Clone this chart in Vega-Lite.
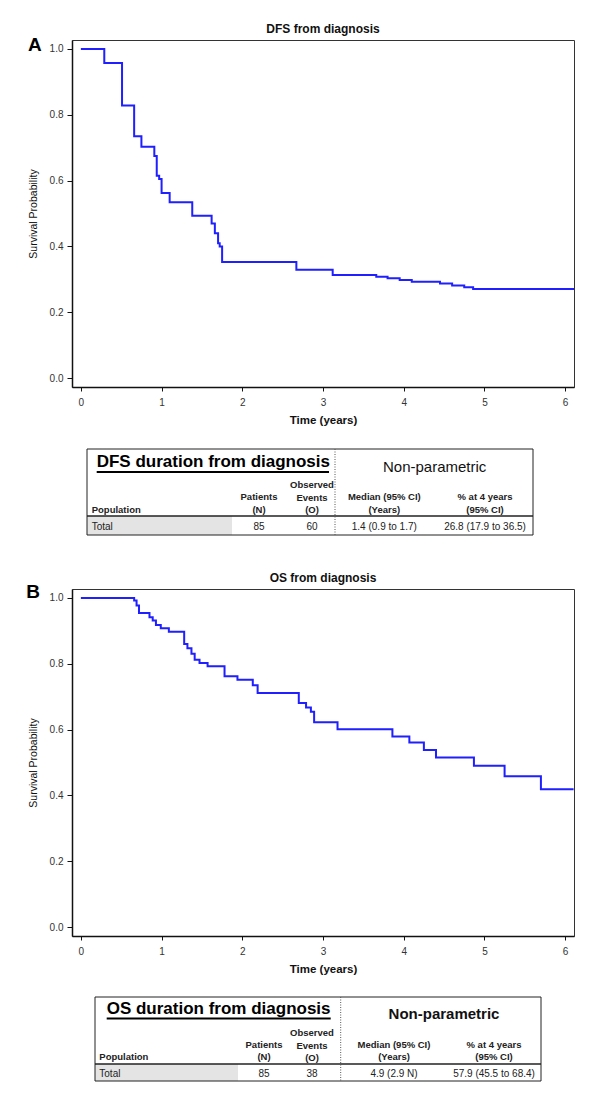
{
  "$schema": "https://vega.github.io/schema/vega-lite/v6.json",
  "autosize": {"type": "pad"},
  "padding": {"left": 25, "top": 22, "right": 10, "bottom": 5},
  "background": "white",
  "spacing": 20,
  "bounds": "flush",
  "config": {
    "font": "Liberation Sans",
    "view": {"stroke": "#333", "strokeWidth": 1},
    "axis": {"grid": false, "domainColor": "#111", "domainWidth": 1.5, "tickColor": "#111", "tickWidth": 1, "labelFont": "Liberation Sans", "labelFontSize": 10, "labelColor": "#333", "titleFont": "Liberation Sans", "titleColor": "#111", "labelFlush": false},
    "title": {"font": "Liberation Sans", "fontSize": 12, "fontWeight": "bold", "color": "#111", "frame": "group"}
  },
  "datasets": {
    "dfs": [
      {"t": 0, "s": 1}, {"t": 0.29, "s": 0.957}, {"t": 0.51, "s": 0.828}, {"t": 0.66, "s": 0.735}, {"t": 0.75, "s": 0.703},
      {"t": 0.91, "s": 0.675}, {"t": 0.94, "s": 0.615}, {"t": 0.97, "s": 0.605}, {"t": 1.0, "s": 0.562}, {"t": 1.1, "s": 0.534},
      {"t": 1.38, "s": 0.493}, {"t": 1.62, "s": 0.47}, {"t": 1.66, "s": 0.44}, {"t": 1.7, "s": 0.41}, {"t": 1.72, "s": 0.4},
      {"t": 1.75, "s": 0.353}, {"t": 2.67, "s": 0.329}, {"t": 3.12, "s": 0.313}, {"t": 3.66, "s": 0.308}, {"t": 3.8, "s": 0.303},
      {"t": 3.95, "s": 0.298}, {"t": 4.1, "s": 0.293}, {"t": 4.45, "s": 0.287}, {"t": 4.6, "s": 0.281}, {"t": 4.75, "s": 0.276},
      {"t": 4.86, "s": 0.271}, {"t": 6.11, "s": 0.271}
    ],
    "os": [
      {"t": 0, "s": 1}, {"t": 0.66, "s": 0.992}, {"t": 0.69, "s": 0.977}, {"t": 0.72, "s": 0.954}, {"t": 0.85, "s": 0.941},
      {"t": 0.89, "s": 0.931}, {"t": 0.93, "s": 0.918}, {"t": 0.99, "s": 0.908}, {"t": 1.09, "s": 0.897}, {"t": 1.28, "s": 0.86},
      {"t": 1.32, "s": 0.847}, {"t": 1.37, "s": 0.83}, {"t": 1.41, "s": 0.812}, {"t": 1.47, "s": 0.802}, {"t": 1.57, "s": 0.792},
      {"t": 1.78, "s": 0.762}, {"t": 1.94, "s": 0.751}, {"t": 2.13, "s": 0.735}, {"t": 2.19, "s": 0.711}, {"t": 2.7, "s": 0.681},
      {"t": 2.79, "s": 0.667}, {"t": 2.85, "s": 0.654}, {"t": 2.89, "s": 0.622}, {"t": 3.18, "s": 0.601}, {"t": 3.86, "s": 0.579},
      {"t": 4.07, "s": 0.561}, {"t": 4.25, "s": 0.538}, {"t": 4.4, "s": 0.515}, {"t": 4.87, "s": 0.49}, {"t": 5.25, "s": 0.458},
      {"t": 5.7, "s": 0.419}, {"t": 6.105, "s": 0.419}
    ],
    "dfsTable": [
      {"kind": "title", "c": 2, "r": 1, "txt": "DFS duration from diagnosis"},
      {"kind": "group", "c": 8.5, "r": 2, "txt": "Non-parametric"},
      {"kind": "head", "c": 1, "r": 5, "txt": "Population"},
      {"kind": "head", "c": 4, "r": 4, "txt": "Patients\n(N)"},
      {"kind": "head", "c": 5, "r": 3, "txt": "Observed\nEvents\n(O)"},
      {"kind": "head", "c": 8, "r": 4, "txt": "Median (95% CI)\n(Years)"},
      {"kind": "head", "c": 9, "r": 4, "txt": "% at 4 years\n(95% CI)"},
      {"kind": "body", "c": 1, "r": 7, "txt": "Total"},
      {"kind": "body", "c": 4, "r": 7, "txt": "85"},
      {"kind": "body", "c": 5, "r": 7, "txt": "60"},
      {"kind": "body", "c": 8, "r": 7, "txt": "1.4 (0.9 to 1.7)"},
      {"kind": "body", "c": 9, "r": 7, "txt": "26.8 (17.9 to 36.5)"}
    ],
    "osTable": [
      {"kind": "title", "c": 2, "r": 1, "txt": "OS duration from diagnosis"},
      {"kind": "group", "c": 8.5, "r": 2, "txt": "Non-parametric"},
      {"kind": "head", "c": 1, "r": 5, "txt": "Population"},
      {"kind": "head", "c": 4, "r": 4, "txt": "Patients\n(N)"},
      {"kind": "head", "c": 5, "r": 3, "txt": "Observed\nEvents\n(O)"},
      {"kind": "head", "c": 8, "r": 4, "txt": "Median (95% CI)\n(Years)"},
      {"kind": "head", "c": 9, "r": 4, "txt": "% at 4 years\n(95% CI)"},
      {"kind": "body", "c": 1, "r": 7, "txt": "Total"},
      {"kind": "body", "c": 4, "r": 7, "txt": "85"},
      {"kind": "body", "c": 5, "r": 7, "txt": "38"},
      {"kind": "body", "c": 8, "r": 7, "txt": "4.9 (2.9 N)"},
      {"kind": "body", "c": 9, "r": 7, "txt": "57.9 (45.5 to 68.4)"}
    ]
  },
  "vconcat": [
    {
      "width": 502, "height": 347,
      "title": {"text": "DFS from diagnosis", "offset": 0},
      "layer": [
        {
          "data": {"name": "dfs"},
          "mark": {"type": "line", "interpolate": "step-after", "color": "#1f1fff", "strokeWidth": 2},
          "encoding": {
            "x": {"field": "t", "type": "quantitative", "scale": {"domain": [-0.11, 6.11], "nice": false, "zero": false},
                  "axis": {"values": [0, 1, 2, 3, 4, 5, 6], "format": "d", "tickSize": 4, "labelPadding": 6, "title": "Time (years)", "titleFontSize": 11.5, "titleFontWeight": "bold", "titlePadding": 7}},
            "y": {"field": "s", "type": "quantitative", "scale": {"domain": [-0.027, 1.027], "nice": false, "zero": false},
                  "axis": {"values": [0, 0.2, 0.4, 0.6, 0.8, 1], "format": ".1f", "tickSize": 5, "labelPadding": 4, "title": "Survival Probability", "titleFontSize": 10.5, "titleFontWeight": "normal", "titlePadding": 11}}
          }
        },
        {
          "data": {"values": [{"label": "A"}]},
          "mark": {"type": "text", "fontSize": 19, "fontWeight": "bold", "align": "center", "baseline": "middle", "color": "#000"},
          "encoding": {
            "x": {"datum": -0.57, "type": "quantitative"},
            "y": {"datum": 1.012, "type": "quantitative"},
            "text": {"field": "label"}
          }
        }
      ]
    },
    {
      "width": 502, "height": 162,
      "view": {"stroke": null},
      "data": {"name": "dfsTable"},
      "layer": [
        {"data": {"values": [{}]}, "mark": {"type": "rect", "fill": "#e4e4e4"},
         "encoding": {"x": {"datum": 0, "type": "quantitative", "scale": {"domain": [0,1,2,3,4,5,6,7,8,9,10], "range": [15,19.7,24.7,160,187,240,257,263,312.3,413,461], "nice": false, "zero": false}, "axis": null}, "x2": {"datum": 3},
                      "y": {"datum": 6, "type": "quantitative", "scale": {"domain": [0,1,2,3,4,5,6,7,8], "range": [42,60,65,81,93,105.5,109,120,128], "nice": false, "zero": false}, "axis": null}, "y2": {"datum": 8}}},
        {"data": {"values": [{}]}, "mark": {"type": "rect", "filled": false, "stroke": "#222", "strokeWidth": 1},
         "encoding": {"x": {"datum": 0, "type": "quantitative"}, "x2": {"datum": 10}, "y": {"datum": 0, "type": "quantitative"}, "y2": {"datum": 8}}},
        {"data": {"values": [{}]}, "mark": {"type": "rule", "color": "#222", "strokeWidth": 1.5},
         "encoding": {"x": {"datum": 0, "type": "quantitative"}, "x2": {"datum": 10}, "y": {"datum": 6, "type": "quantitative"}}},
        {"data": {"values": [{}]}, "mark": {"type": "rule", "color": "#555", "strokeWidth": 1, "strokeDash": [1, 1.5]},
         "encoding": {"x": {"datum": 7, "type": "quantitative"}, "y": {"datum": 0, "type": "quantitative"}, "y2": {"datum": 8}}},
        {"data": {"values": [{}]}, "mark": {"type": "rule", "color": "#000", "strokeWidth": 1.8},
         "encoding": {"x": {"datum": 2, "type": "quantitative"}, "x2": {"datum": 6}, "y": {"datum": 2, "type": "quantitative"}}},
        {"transform": [{"filter": "datum.kind === 'title'"}],
         "mark": {"type": "text", "fontSize": 17, "fontWeight": "bold", "align": "left", "baseline": "alphabetic", "color": "#000"},
         "encoding": {"x": {"field": "c", "type": "quantitative"}, "y": {"field": "r", "type": "quantitative"}, "text": {"field": "txt"}}},
        {"transform": [{"filter": "datum.kind === 'group'"}],
         "mark": {"type": "text", "fontSize": 15, "align": "center", "baseline": "alphabetic", "color": "#111"},
         "encoding": {"x": {"field": "c", "type": "quantitative"}, "y": {"field": "r", "type": "quantitative"}, "text": {"field": "txt"}}},
        {"transform": [{"filter": "datum.kind === 'head' && datum.c === 1"}],
         "mark": {"type": "text", "fontSize": 9.5, "fontWeight": "bold", "align": "left", "baseline": "alphabetic", "color": "#222"},
         "encoding": {"x": {"field": "c", "type": "quantitative"}, "y": {"field": "r", "type": "quantitative"}, "text": {"field": "txt"}}},
        {"transform": [{"filter": "datum.kind === 'head' && datum.c !== 1"}],
         "mark": {"type": "text", "fontSize": 9.5, "fontWeight": "bold", "align": "center", "baseline": "alphabetic", "lineBreak": "\n", "lineHeight": 12.5, "color": "#222"},
         "encoding": {"x": {"field": "c", "type": "quantitative"}, "y": {"field": "r", "type": "quantitative"}, "text": {"field": "txt"}}},
        {"transform": [{"filter": "datum.kind === 'body' && datum.c === 1"}],
         "mark": {"type": "text", "fontSize": 10, "align": "left", "baseline": "middle", "color": "#222"},
         "encoding": {"x": {"field": "c", "type": "quantitative"}, "y": {"field": "r", "type": "quantitative"}, "text": {"field": "txt"}}},
        {"transform": [{"filter": "datum.kind === 'body' && datum.c !== 1"}],
         "mark": {"type": "text", "fontSize": 10, "align": "center", "baseline": "middle", "color": "#222"},
         "encoding": {"x": {"field": "c", "type": "quantitative"}, "y": {"field": "r", "type": "quantitative"}, "text": {"field": "txt"}}}
      ]
    },
    {
      "width": 502, "height": 347,
      "title": {"text": "OS from diagnosis", "offset": -2},
      "layer": [
        {
          "data": {"name": "os"},
          "mark": {"type": "line", "interpolate": "step-after", "color": "#1f1fff", "strokeWidth": 2},
          "encoding": {
            "x": {"field": "t", "type": "quantitative", "scale": {"domain": [-0.11, 6.11], "nice": false, "zero": false},
                  "axis": {"values": [0, 1, 2, 3, 4, 5, 6], "format": "d", "tickSize": 4, "labelPadding": 6, "title": "Time (years)", "titleFontSize": 11.5, "titleFontWeight": "bold", "titlePadding": 7}},
            "y": {"field": "s", "type": "quantitative", "scale": {"domain": [-0.027, 1.027], "nice": false, "zero": false},
                  "axis": {"values": [0, 0.2, 0.4, 0.6, 0.8, 1], "format": ".1f", "tickSize": 5, "labelPadding": 4, "title": "Survival Probability", "titleFontSize": 10.5, "titleFontWeight": "normal", "titlePadding": 11}}
          }
        },
        {
          "data": {"values": [{"label": "B"}]},
          "mark": {"type": "text", "fontSize": 19, "fontWeight": "bold", "align": "center", "baseline": "middle", "color": "#000"},
          "encoding": {
            "x": {"datum": -0.593, "type": "quantitative"},
            "y": {"datum": 1.018, "type": "quantitative"},
            "text": {"field": "label"}
          }
        }
      ]
    },
    {
      "width": 502, "height": 140,
      "view": {"stroke": null},
      "data": {"name": "osTable"},
      "layer": [
        {"data": {"values": [{}]}, "mark": {"type": "rect", "fill": "#e4e4e4"},
         "encoding": {"x": {"datum": 0, "type": "quantitative", "scale": {"domain": [0,1,2,3,4,5,6,7,8,9,10], "range": [23,27.3,34.7,166,192,240,258.7,268.7,322,422,469], "nice": false, "zero": false}, "axis": null}, "x2": {"datum": 3},
                      "y": {"datum": 6, "type": "quantitative", "scale": {"domain": [0,1,2,3,4,5,6,7,8], "range": [41,58,62.5,80,91.5,103.5,108,118,125], "nice": false, "zero": false}, "axis": null}, "y2": {"datum": 8}}},
        {"data": {"values": [{}]}, "mark": {"type": "rect", "filled": false, "stroke": "#222", "strokeWidth": 1},
         "encoding": {"x": {"datum": 0, "type": "quantitative"}, "x2": {"datum": 10}, "y": {"datum": 0, "type": "quantitative"}, "y2": {"datum": 8}}},
        {"data": {"values": [{}]}, "mark": {"type": "rule", "color": "#222", "strokeWidth": 1.5},
         "encoding": {"x": {"datum": 0, "type": "quantitative"}, "x2": {"datum": 10}, "y": {"datum": 6, "type": "quantitative"}}},
        {"data": {"values": [{}]}, "mark": {"type": "rule", "color": "#555", "strokeWidth": 1, "strokeDash": [1, 1.5]},
         "encoding": {"x": {"datum": 7, "type": "quantitative"}, "y": {"datum": 0, "type": "quantitative"}, "y2": {"datum": 8}}},
        {"data": {"values": [{}]}, "mark": {"type": "rule", "color": "#000", "strokeWidth": 1.8},
         "encoding": {"x": {"datum": 2, "type": "quantitative"}, "x2": {"datum": 6}, "y": {"datum": 2, "type": "quantitative"}}},
        {"transform": [{"filter": "datum.kind === 'title'"}],
         "mark": {"type": "text", "fontSize": 17, "fontWeight": "bold", "align": "left", "baseline": "alphabetic", "color": "#000"},
         "encoding": {"x": {"field": "c", "type": "quantitative"}, "y": {"field": "r", "type": "quantitative"}, "text": {"field": "txt"}}},
        {"transform": [{"filter": "datum.kind === 'group'"}],
         "mark": {"type": "text", "fontSize": 15, "fontWeight": "bold", "align": "center", "baseline": "alphabetic", "color": "#111"},
         "encoding": {"x": {"field": "c", "type": "quantitative"}, "y": {"field": "r", "type": "quantitative"}, "text": {"field": "txt"}}},
        {"transform": [{"filter": "datum.kind === 'head' && datum.c === 1"}],
         "mark": {"type": "text", "fontSize": 9.5, "fontWeight": "bold", "align": "left", "baseline": "alphabetic", "color": "#222"},
         "encoding": {"x": {"field": "c", "type": "quantitative"}, "y": {"field": "r", "type": "quantitative"}, "text": {"field": "txt"}}},
        {"transform": [{"filter": "datum.kind === 'head' && datum.c !== 1"}],
         "mark": {"type": "text", "fontSize": 9.5, "fontWeight": "bold", "align": "center", "baseline": "alphabetic", "lineBreak": "\n", "lineHeight": 12.5, "color": "#222"},
         "encoding": {"x": {"field": "c", "type": "quantitative"}, "y": {"field": "r", "type": "quantitative"}, "text": {"field": "txt"}}},
        {"transform": [{"filter": "datum.kind === 'body' && datum.c === 1"}],
         "mark": {"type": "text", "fontSize": 10, "align": "left", "baseline": "middle", "color": "#222"},
         "encoding": {"x": {"field": "c", "type": "quantitative"}, "y": {"field": "r", "type": "quantitative"}, "text": {"field": "txt"}}},
        {"transform": [{"filter": "datum.kind === 'body' && datum.c !== 1"}],
         "mark": {"type": "text", "fontSize": 10, "align": "center", "baseline": "middle", "color": "#222"},
         "encoding": {"x": {"field": "c", "type": "quantitative"}, "y": {"field": "r", "type": "quantitative"}, "text": {"field": "txt"}}}
      ]
    }
  ]
}
